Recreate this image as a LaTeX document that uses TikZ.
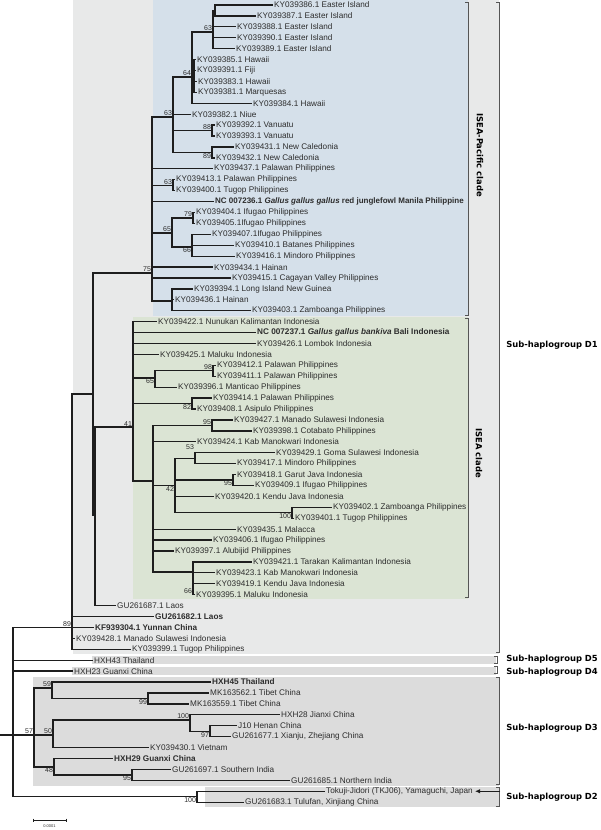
\documentclass[tikz,border=0pt]{standalone}
\usepackage{fontspec}
\setmainfont{Liberation Sans}
\newfontfamily\verdana{DejaVu Sans}
\usetikzlibrary{arrows.meta}
\definecolor{donegray}{RGB}{232,233,233}
\definecolor{pacblue}{RGB}{213,224,234}
\definecolor{iseagreen}{RGB}{219,228,212}
\definecolor{bandgray}{RGB}{220,220,220}
\definecolor{treeink}{RGB}{30,30,30}
\definecolor{labelink}{RGB}{45,45,45}
\definecolor{bracketink}{RGB}{85,85,85}

% leaf row -> y position
\newcommand{\ty}[1]{5+(#1-1)*10.92}
% tip coordinate plus its label
\newcommand{\leaf}[4]{\coordinate (#1) at (#3,{\ty{#2}});
  \node[leaf] (#1t) at (#1) {#4};}
% elbow branches from a node to its children
\newcommand{\kids}[2]{\foreach \c in {#2} \draw[branch] (#1) |- (\c);}

\tikzset{
  leaf/.style={anchor=west, inner sep=1pt, font=\fontsize{8.2}{9}\selectfont, text=labelink},
  branch/.style={draw=treeink, line width=1.3pt},
  boot/.style={inner sep=0.8pt, font=\fontsize{7}{8}\selectfont, text=labelink},
  al/.style={boot, anchor=south east},
  bl/.style={boot, anchor=north east},
  bracket/.style={draw=bracketink, line width=0.7pt},
  cladelabel/.style={font=\verdana\bfseries\fontsize{8.4}{9}\selectfont, rotate=-90, inner sep=0pt},
  grouplabel/.style={font=\verdana\bfseries\fontsize{8.4}{9}\selectfont, anchor=east, inner sep=0pt},
  pointer/.style={draw=treeink, line width=1.3pt, -{Latex[length=5pt,width=4.5pt]}, shorten >=1pt},
}

\begin{document}
\begin{tikzpicture}[x=1pt,y=-1pt]
\useasboundingbox (0,0) rectangle (600,830);

% shaded groups
\fill[donegray] (72.5,0) rectangle (499,654);
\fill[pacblue] (152.5,0) rectangle (468,315.5);
\fill[iseagreen] (133,317) rectangle (468,598.5);
\fill[bandgray] (92,655.5) rectangle (496,663.5);
\fill[bandgray] (72,666.5) rectangle (496,674.5);
\fill[bandgray] (33,677) rectangle (499,785.5);
\fill[bandgray] (205,786.5) rectangle (499,807);

% brackets
\draw[bracket] (465,2) -- (468,2) -- (468,315) -- (465,315);
\draw[bracket] (465,318) -- (468,318) -- (468,597) -- (465,597);
\draw[bracket] (496,2) -- (499,2) -- (499,652) -- (496,652);
\draw[bracket] (494,656) -- (497,656) -- (497,663) -- (494,663);
\draw[bracket] (494,666.5) -- (497,666.5) -- (497,673.5) -- (494,673.5);
\draw[bracket] (496,677.5) -- (499,677.5) -- (499,784) -- (496,784);
\draw[bracket] (496,787.5) -- (499,787.5) -- (499,806) -- (496,806);

\node[cladelabel] (pacific) at (480,155) {ISEA-Pacific clade};
\node[cladelabel] (isea) at (479,453) {ISEA clade};
\node[grouplabel] (dOne) at (598,345) {Sub-haplogroup D1};
\node[grouplabel] (dFive) at (598,659.5) {Sub-haplogroup D5};
\node[grouplabel] (dFour) at (598,672.5) {Sub-haplogroup D4};
\node[grouplabel] (dThree) at (598,728) {Sub-haplogroup D3};
\node[grouplabel] (dTwo) at (598,797) {Sub-haplogroup D2};

% leaves
\leaf{k386}{1}{273}{KY039386.1 Easter Island}
\leaf{k387}{2}{256}{KY039387.1 Easter Island}
\leaf{k388}{3}{236}{KY039388.1 Easter Island}
\leaf{k390}{4}{236}{KY039390.1 Easter Island}
\leaf{k389}{5}{235}{KY039389.1 Easter Island}
\leaf{k385}{6}{196}{KY039385.1 Hawaii}
\leaf{k391}{7}{196}{KY039391.1 Fiji}
\leaf{k383}{8}{197}{KY039383.1 Hawaii}
\leaf{k381}{9}{197}{KY039381.1 Marquesas}
\leaf{k384}{10}{252}{KY039384.1 Hawaii}
\leaf{k382}{11}{191}{KY039382.1 Niue}
\leaf{k392}{12}{215}{KY039392.1 Vanuatu}
\leaf{k393}{13}{215}{KY039393.1 Vanuatu}
\leaf{k431}{14}{234}{KY039431.1 New Caledonia}
\leaf{k432}{15}{215}{KY039432.1 New Caledonia}
\leaf{k437}{16}{213}{KY039437.1 Palawan Philippines}
\leaf{k413}{17}{175}{KY039413.1 Palawan Philippines}
\leaf{k400}{18}{175}{KY039400.1 Tugop Philippines}
\leaf{nc236}{19}{214}{\fontsize{8}{9}\selectfont\textbf{NC 007236.1 \textit{Gallus gallus gallus} red junglefowl Manila Philippine}}
\leaf{k404}{20}{195}{KY039404.1 Ifugao Philippines}
\leaf{k405}{21}{195}{KY039405.1Ifugao Philippines}
\leaf{k407}{22}{211}{KY039407.1Ifugao Philippines}
\leaf{k410}{23}{234}{KY039410.1 Batanes Philippines}
\leaf{k416}{24}{235}{KY039416.1 Mindoro Philippines}
\leaf{k434}{25}{213}{KY039434.1 Hainan}
\leaf{k415}{26}{231}{KY039415.1 Cagayan Valley Philippines}
\leaf{k394}{27}{193}{KY039394.1 Long Island New Guinea}
\leaf{k436}{28}{174}{KY039436.1 Hainan}
\leaf{k403}{29}{251}{KY039403.1 Zamboanga Philippines}
\leaf{k422}{30}{157}{KY039422.1 Nunukan Kalimantan Indonesia}
\leaf{nc237}{31}{256}{\textbf{NC 007237.1 \textit{Gallus gallus bankiva} Bali Indonesia}}
\leaf{k426}{32}{256}{KY039426.1 Lombok Indonesia}
\leaf{k425}{33}{159}{KY039425.1 Maluku Indonesia}
\leaf{k412}{34}{216}{KY039412.1 Palawan Philippines}
\leaf{k411}{35}{216}{KY039411.1 Palawan Philippines}
\leaf{k396}{36}{177}{KY039396.1 Manticao Philippines}
\leaf{k414}{37}{212}{KY039414.1 Palawan Philippines}
\leaf{k408}{38}{196}{KY039408.1 Asipulo Philippines}
\leaf{k427}{39}{233}{KY039427.1 Manado Sulawesi Indonesia}
\leaf{k398}{40}{252}{KY039398.1 Cotabato Philippines}
\leaf{k424}{41}{196}{KY039424.1 Kab Manokwari Indonesia}
\leaf{k429}{42}{275}{KY039429.1 Goma Sulawesi Indonesia}
\leaf{k417}{43}{236}{KY039417.1 Mindoro Philippines}
\leaf{k418}{44}{236}{KY039418.1 Garut Java Indonesia}
\leaf{k409}{45}{254}{KY039409.1 Ifugao Philippines}
\leaf{k420}{46}{214}{KY039420.1 Kendu Java Indonesia}
\leaf{k402}{47}{332}{KY039402.1 Zamboanga Philippines}
\leaf{k401}{48}{294}{KY039401.1 Tugop Philippines}
\leaf{k435}{49}{236}{KY039435.1 Malacca}
\leaf{k406}{50}{212}{KY039406.1 Ifugao Philippines}
\leaf{k397}{51}{174}{KY039397.1 Alubijid Philippines}
\leaf{k421}{52}{252}{KY039421.1 Tarakan Kalimantan Indonesia}
\leaf{k423}{53}{215}{KY039423.1 Kab Manokwari Indonesia}
\leaf{k419}{54}{215}{KY039419.1 Kendu Java Indonesia}
\leaf{k395}{55}{195}{KY039395.1 Maluku Indonesia}
\leaf{gu687}{56}{116}{GU261687.1 Laos}
\leaf{gu682}{57}{154}{\textbf{GU261682.1 Laos}}
\leaf{kf304}{58}{94}{\textbf{KF939304.1 Yunnan China}}
\leaf{k428}{59}{75}{KY039428.1 Manado Sulawesi Indonesia}
\leaf{k399}{60}{131}{KY039399.1 Tugop Philippines}
\leaf{hxh43}{61}{93}{HXH43 Thailand}
\leaf{hxh23}{62}{73}{HXH23 Guanxi China}
\leaf{hxh45}{63}{211}{\textbf{HXH45 Thailand}}
\leaf{mk562}{64}{209}{MK163562.1 Tibet China}
\leaf{mk559}{65}{189}{MK163559.1 Tibet China}
\leaf{hxh28}{66}{280}{HXH28 Jianxi China}
\leaf{j10}{67}{237}{J10 Henan China}
\leaf{gu677}{68}{231}{GU261677.1 Xianju, Zhejiang China}
\leaf{k430}{69}{149}{KY039430.1 Vietnam}
\leaf{hxh29}{70}{113}{\textbf{HXH29 Guanxi China}}
\leaf{gu697}{71}{171}{GU261697.1 Southern India}
\leaf{gu685}{72}{290}{GU261685.1 Northern India}
\leaf{tkj06}{73}{325}{Tokuji-Jidori (TKJ06), Yamaguchi, Japan}
\leaf{gu683}{74}{244}{GU261683.1 Tulufan, Xinjiang China}

% internal nodes
\coordinate (rootstub) at (0,735);
\coordinate (root) at (13,735);
\coordinate (n89) at (72,627.44);
\coordinate (nA) at (93,394);
\coordinate (nB) at (95,515);
\coordinate (n75) at (152,273);
\coordinate (nP63) at (173,117);
\coordinate (n64) at (192,77);
\coordinate (nE63) at (213,32);
\coordinate (nE2) at (215,10.5);
\coordinate (nHaw) at (194,76);
\coordinate (n88) at (212,130.6);
\coordinate (n89b) at (212,152.4);
\coordinate (n63b) at (173,185.2);
\coordinate (n65) at (172,233);
\coordinate (n79) at (193,218);
\coordinate (n66) at (192,247);
\coordinate (nNG) at (172,301);
\coordinate (n41) at (133,427);
\coordinate (n65g) at (155,378);
\coordinate (n98) at (213,370.8);
\coordinate (n82) at (192,403.6);
\coordinate (nQ) at (153,481);
\coordinate (n95g) at (212,425.4);
\coordinate (n42) at (175,485.5);
\coordinate (n53) at (195,458.2);
\coordinate (n95j) at (233,480);
\coordinate (n100g) at (292,512.8);
\coordinate (n66g) at (193,572);
\coordinate (n57) at (34,735);
\coordinate (n59) at (52,688);
\coordinate (n99) at (148,698.4);
\coordinate (n50) at (53,735);
\coordinate (n100) at (190,720);
\coordinate (n97) at (210,731.2);
\coordinate (n48) at (54,767);
\coordinate (n95) at (132,774.9);
\coordinate (nD2) at (197,796.7);

% branches
\draw[branch] (rootstub) -- (root);
\kids{root}{n89,hxh43,hxh23,n57,nD2}
\kids{n89}{nA,gu682,kf304,k428,k399}
\kids{nA}{n75,nB}
\kids{nB}{n41,gu687}
\kids{n75}{nP63,k437,n63b,nc236,n65,k434,k415,nNG}
\kids{nP63}{n64,k382,n88,n89b}
\kids{n64}{nE63,nHaw,k384}
\kids{nE63}{nE2,k388,k390,k389}
\kids{nE2}{k386,k387}
\kids{nHaw}{k385,k391,k383,k381}
\kids{n88}{k392,k393}
\kids{n89b}{k431,k432}
\kids{n63b}{k413,k400}
\kids{n65}{n79,n66}
\kids{n79}{k404,k405}
\kids{n66}{k407,k410,k416}
\kids{nNG}{k394,k436,k403}
\kids{n41}{k422,nc237,k426,k425,n65g,n82,nQ}
\kids{n65g}{n98,k396}
\kids{n98}{k412,k411}
\kids{n82}{k414,k408}
\kids{nQ}{n95g,k424,n42,k435,k406,k397,n66g}
\kids{n95g}{k427,k398}
\kids{n42}{n53,n95j,k420,n100g}
\kids{n53}{k429,k417}
\kids{n95j}{k418,k409}
\kids{n100g}{k402,k401}
\kids{n66g}{k421,k423,k419,k395}
\kids{n57}{n59,n50,n48}
\kids{n59}{hxh45,n99}
\kids{n99}{mk562,mk559}
\kids{n50}{n100,k430}
\kids{n100}{hxh28,n97}
\kids{n97}{j10,gu677}
\kids{n48}{hxh29,n95}
\kids{n95}{gu697,gu685}
\kids{nD2}{tkj06,gu683}

% bootstrap values
\node[al] (bE63) at (nE63) {63};
\node[al] (b64) at (n64) {64};
\node[al] (bP63) at (nP63) {63};
\node[al] (b88) at (n88) {88};
\node[bl] (b89b) at (n89b) {89};
\node[al] (b63b) at (n63b) {63};
\node[al] (b79) at (n79) {79};
\node[al] (b65) at (n65) {65};
\node[bl] (b66) at (n66) {66};
\node[al] (b75) at (n75) {75};
\node[al] (b98) at (n98) {98};
\node[bl] (b65g) at (n65g) {65};
\node[bl] (b82) at (n82) {82};
\node[al] (b95g) at (n95g) {95};
\node[al] (b41) at (n41) {41};
\node[al] (b53) at ([shift={(0,-8)}]n53) {53};
\node[bl] (b95j) at (n95j) {95};
\node[bl] (b42) at (n42) {42};
\node[bl] (b100g) at (n100g) {100};
\node[bl] (b66g) at ([shift={(0,16)}]n66g) {66};
\node[al] (b89) at (n89) {89};
\node[al] (b57) at (n57) {57};
\node[al] (b50) at (n50) {50};
\node[al] (b59) at (n59) {59};
\node[bl] (b99) at (n99) {99};
\node[al] (b100) at (n100) {100};
\node[bl] (b97) at (n97) {97};
\node[bl] (b48) at (n48) {48};
\node[bl] (b95) at (n95) {95};
\node[bl] (bD2) at (nD2) {100};

% arrow to the Japanese sample
\coordinate (tkjarrow) at (500,{\ty{73}});
\draw[pointer] (tkjarrow) -- (tkj06t.east);

% scale bar
\coordinate (sbl) at (33,820);
\coordinate (sbr) at (66,820);
\draw[treeink, line width=0.6pt] (sbl) -- (sbr);
\draw[treeink, line width=0.6pt] ([yshift=1.5pt]sbl) -- ([yshift=-1.5pt]sbl);
\draw[treeink, line width=0.6pt] ([yshift=1.5pt]sbr) -- ([yshift=-1.5pt]sbr);
\node[font=\fontsize{4}{4}\selectfont, text=labelink, inner sep=0pt] (sblabel) at (49.5,826.5) {0.0001};
\end{tikzpicture}
\end{document}
